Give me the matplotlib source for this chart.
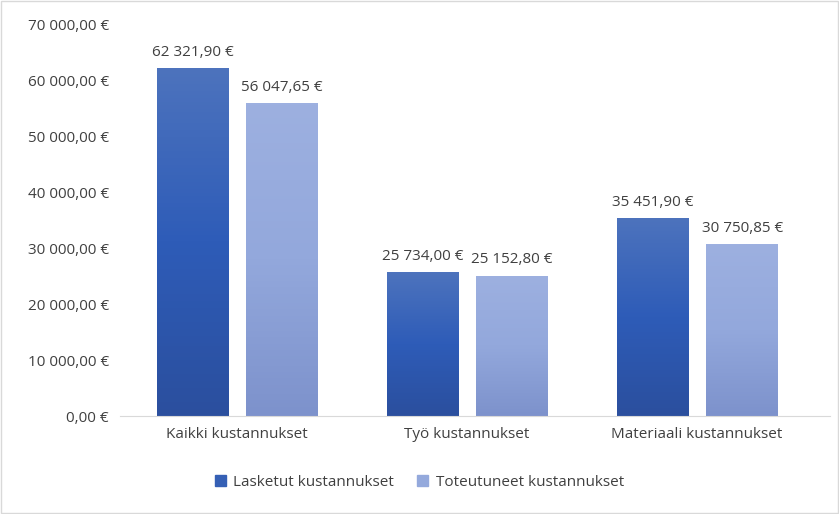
import matplotlib
matplotlib.use("Agg")
import matplotlib.pyplot as plt
import numpy as np
from matplotlib.patches import Rectangle

categories = ["Kaikki kustannukset", "Työ kustannukset", "Materiaali kustannukset"]
series_names = ["Lasketut kustannukset", "Toteutuneet kustannukset"]
lasketut = [62321.90, 25734.00, 35451.90]
toteutuneet = [56047.65, 25152.80, 30750.85]
yticks = [0, 10000, 20000, 30000, 40000, 50000, 60000, 70000]

def fmt(v):
    s = f"{v:,.2f}".replace(",", " ").replace(".", ",")
    return s + " €"

plt.rcParams["font.family"] = "Open Sans"
fig = plt.figure(figsize=(8.39, 5.14), dpi=100)
ax = fig.add_axes([120/839, 1-416/514, 710/839, 391/514])
ax.set_xlim(-0.509, -0.509 + 710/230)
ax.set_ylim(0, 70000)

w = 72/230
offs = [-0.191, 0.196]
grads = [
    (np.array([0x4d, 0x73, 0xbd]) / 255, np.array([0x2e, 0x5c, 0xb8]) / 255, np.array([0x2b, 0x4f, 0x9e]) / 255),
    (np.array([0x9d, 0xb0, 0xe0]) / 255, np.array([0x93, 0xa8, 0xdc]) / 255, np.array([0x7d, 0x92, 0xcc]) / 255),
]
solid = ["#3560b5", "#94a9dc"]

for si, vals in enumerate([lasketut, toteutuneet]):
    top, mid, bot = grads[si]
    t = np.linspace(0, 1, 100)[:, None]
    col = np.where(t < 0.5, top + (mid - top) * (t / 0.5), mid + (bot - mid) * ((t - 0.5) / 0.5))
    img = col[:, None, :]
    for i, v in enumerate(vals):
        x0 = i + offs[si] - w/2
        rect = Rectangle((x0, 0), w, v, facecolor="none", edgecolor="none")
        ax.add_patch(rect)
        im = ax.imshow(img, extent=(x0, x0 + w, 0, v), aspect="auto", zorder=2)
        im.set_clip_path(rect)
        ax.text(i + offs[si], v + 1500, fmt(v), ha="center", va="bottom", fontsize=11, color="#404040")

ax.set_xlim(-0.509, -0.509 + 710/230)
ax.set_ylim(0, 70000)
ax.set_yticks(yticks)
ax.set_yticklabels([fmt(v) for v in yticks], fontsize=11, color="#404040")
ax.set_xticks(range(3))
ax.set_xticklabels(categories, fontsize=11, color="#404040")
ax.tick_params(length=0, pad=8)
for s in ["top", "right", "left"]:
    ax.spines[s].set_visible(False)
ax.spines["bottom"].set_color("#d9d9d9")

handles = [Rectangle((0, 0), 1, 1, color=c) for c in solid]
fig.legend(handles, series_names, loc="center", bbox_to_anchor=(0.5, 1-482/514), ncol=2,
           frameon=False, fontsize=11, labelcolor="#404040", handlelength=0.7, handleheight=0.7,
           columnspacing=1.5, handletextpad=0.5)
fig.patches.append(Rectangle((0.001, 0.001), 0.998, 0.997, transform=fig.transFigure,
                             fill=False, edgecolor="#d9d9d9", lw=1))
fig.savefig("out.png", dpi=100)
